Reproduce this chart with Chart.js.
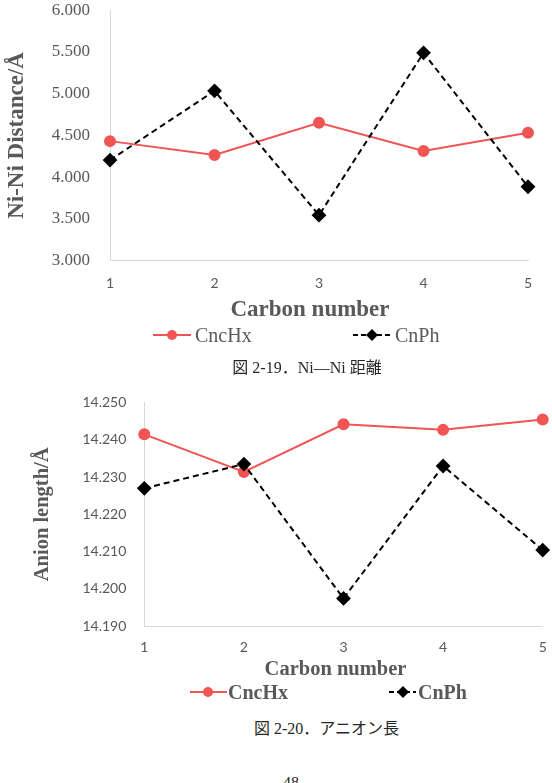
<!DOCTYPE html>
<html>
<head>
<meta charset="utf-8">
<script src="https://cdn.jsdelivr.net/npm/chart.js@4.4.1/dist/chart.umd.min.js"></script>
<style>
html,body{margin:0;padding:0;background:#fff;overflow:hidden}
#page{position:relative;width:552px;height:783px;overflow:hidden;background:#fff}
.abs{position:absolute;white-space:nowrap}
.serif{font-family:"Liberation Serif","Noto Sans CJK JP",serif}
.gray{color:#595959}
.leg{display:flex;align-items:center;height:24px;line-height:24px}
.leg svg{display:block}
canvas{position:absolute;left:0}
</style>
</head>
<body>
<div id="page">
  <canvas id="c1" width="552" height="300" style="top:0"></canvas>
  <canvas id="c2" width="552" height="280" style="top:380px"></canvas>

  <div class="abs serif gray" id="xt1" style="font-weight:bold;font-size:23px;left:0;width:620px;text-align:center;top:295px;line-height:28px">Carbon number</div>

  <div class="abs leg serif gray" style="left:153px;top:323px;font-size:20px">
    <svg width="38" height="14"><line x1="0" y1="7" x2="38" y2="7" stroke="#F05454" stroke-width="2"/><circle cx="19" cy="7" r="5" fill="#F05454"/></svg>
    <span style="margin-left:4px">CncHx</span>
  </div>
  <div class="abs leg serif gray" style="left:353px;top:323px;font-size:20px">
    <svg width="38" height="14"><line x1="0" y1="7" x2="38" y2="7" stroke="#000" stroke-width="2" stroke-dasharray="5,3"/><polygon points="19,1 25,7 19,13 13,7" fill="#000"/></svg>
    <span style="margin-left:4px">CnPh</span>
  </div>

  <div class="abs serif" style="left:0;width:614px;text-align:center;top:358px;font-size:16px;line-height:20px;color:#262626">図 2-19．Ni—Ni 距離</div>

  <div class="abs serif gray" id="xt2" style="font-weight:bold;font-size:20.5px;left:0;width:671px;text-align:center;top:655px;line-height:26px">Carbon number</div>

  <div class="abs leg serif gray" style="left:190px;top:680px;font-size:20px;font-weight:bold">
    <svg width="37" height="14"><line x1="0" y1="7" x2="37" y2="7" stroke="#F05454" stroke-width="2"/><circle cx="18" cy="7" r="5" fill="#F05454"/></svg>
    <span style="margin-left:1px">CncHx</span>
  </div>
  <div class="abs leg serif gray" style="left:389px;top:680px;font-size:20px;font-weight:bold">
    <svg width="27" height="14"><line x1="0" y1="7" x2="27" y2="7" stroke="#000" stroke-width="2" stroke-dasharray="5,3"/><polygon points="14,1 20,7 14,13 8,7" fill="#000"/></svg>
    <span style="margin-left:2px">CnPh</span>
  </div>

  <div class="abs serif" style="left:0;width:653px;text-align:center;top:719px;font-size:16px;line-height:20px;color:#262626">図 2-20．アニオン長</div>

  <div class="abs serif" style="left:0;width:582px;text-align:center;top:773px;font-size:16px;line-height:20px;color:#262626">48</div>
</div>

<script>
// ---- data ----
const categories = ['1', '2', '3', '4', '5'];
const seriesNames = ['CncHx', 'CnPh'];

const niCncHx = [4.432, 4.265, 4.651, 4.313, 4.532];
const niCnPh  = [4.205, 5.034, 3.545, 5.489, 3.886];
const niAxis  = [3.0, 6.0, 0.5];          // min, max, step
const niTitle = 'Ni-Ni Distance/Å';

const anCncHx = [14.2415, 14.2314, 14.2442, 14.2427, 14.2455];
const anCnPh  = [14.2270, 14.2335, 14.1974, 14.2330, 14.2104];
const anAxis  = [14.19, 14.25, 0.01];
const anTitle = 'Anion length/Å';

const RED = '#F05454';
const GRAY = '#595959';
const AXIS = '#d9d9d9';

function makeChart(id, redData, blackData, axis, title, o) {
  return new Chart(document.getElementById(id), {
    type: 'line',
    data: {
      labels: categories,
      datasets: [
        {
          label: seriesNames[0], data: redData,
          borderColor: RED, backgroundColor: RED,
          pointBackgroundColor: RED, pointBorderColor: RED,
          borderWidth: 2, pointRadius: 5, pointStyle: 'circle',
          tension: 0, clip: false, order: 1
        },
        {
          label: seriesNames[1], data: blackData,
          borderColor: '#000', backgroundColor: '#000',
          pointBackgroundColor: '#000', pointBorderColor: '#000',
          borderWidth: 2, borderDash: [6, 4], pointRadius: 6, pointStyle: 'rectRot',
          tension: 0, clip: false, order: 0
        }
      ]
    },
    options: {
      responsive: false,
      animation: false,
      layout: { padding: { left: 0, right: o.padRight, top: o.padTop, bottom: 0 } },
      plugins: { legend: { display: false }, tooltip: { enabled: false } },
      scales: {
        x: {
          type: 'category', offset: false,
          grid: { display: false, drawTicks: true, tickLength: o.xPad },
          border: { display: true, color: AXIS, width: 1 },
          ticks: { color: GRAY, font: { family: 'Lato', size: 14 }, padding: 0, maxRotation: 0, autoSkip: false },
          afterFit(s) { s.height = o.xHeight; }
        },
        y: {
          min: axis[0], max: axis[1],
          grid: { display: false, drawTicks: true, tickLength: o.yPad },
          border: { display: true, color: AXIS, width: 1 },
          ticks: {
            stepSize: axis[2], color: GRAY, padding: 0,
            font: o.yFont,
            callback: v => Number(v).toFixed(3)
          },
          title: {
            display: true, text: title, color: GRAY,
            font: { family: 'Liberation Serif', size: o.titleSize, weight: 'bold' },
            padding: { top: o.titlePad, bottom: 0 }
          },
          afterFit(s) { s.width = o.yWidth; }
        }
      }
    }
  });
}

makeChart('c1', niCncHx, niCnPh, niAxis, niTitle, {
  padRight: 24, padTop: 10, xPad: 14, xHeight: 39.3, yPad: 20,
  yFont: { family: 'Liberation Serif', size: 17 },
  titleSize: 23, titlePad: 3, yWidth: 110
});

makeChart('c2', anCncHx, anCnPh, anAxis, anTitle, {
  padRight: 9.3, padTop: 22.7, xPad: 13, xHeight: 34, yPad: 18,
  yFont: { family: 'Lato', size: 14 },
  titleSize: 20.5, titlePad: 30.7, yWidth: 144.3
});
</script>
</body>
</html>
